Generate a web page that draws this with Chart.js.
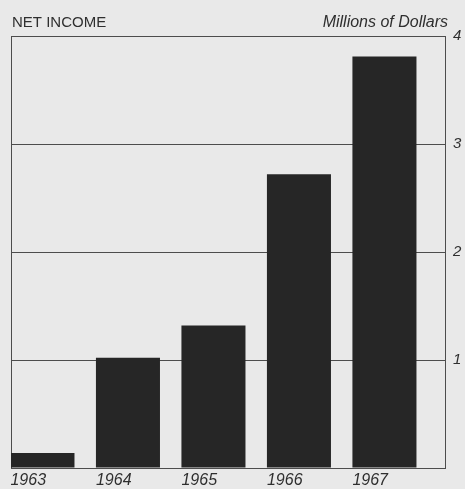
<!DOCTYPE html>
<html>
<head>
<meta charset="utf-8">
<script src="https://cdn.jsdelivr.net/npm/chart.js@4/dist/chart.umd.min.js"></script>
<style>
  html, body { margin: 0; padding: 0; background: #e9e9e9; }
  #wrap { width: 465px; height: 489px; }
</style>
</head>
<body>
<div id="wrap"><canvas id="c" width="465" height="489"></canvas></div>
<script>
// ---- data ----
const years = [1963, 1964, 1965, 1966, 1967];
const netIncome = [0.14, 1.02, 1.32, 2.72, 3.81]; // millions of dollars
const yTicks = [1, 2, 3, 4];
const titleLeft = 'NET INCOME';
const titleRight = 'Millions of Dollars';

// ---- layout settings ----
const xMin = 1962.632, xMax = 1967.72;
const barPct = 0.749;
const halfBar = barPct / 2;
const ink = '#2f2f2f';
const lineCol = '#4d4d4d';
const fontFam = '"Liberation Sans", Arial, sans-serif';

const framePlugin = {
  id: 'frame',
  beforeDatasetsDraw(chart) {
    const { ctx, chartArea: a } = chart;
    ctx.save();
    ctx.strokeStyle = lineCol;
    ctx.lineWidth = 1;
    ctx.strokeRect(a.left + 0.5, a.top + 0.5, a.right - a.left - 1, a.bottom - a.top);
    ctx.restore();
  },
  afterDraw(chart) {
    const { ctx, chartArea: a } = chart;
    ctx.save();
    ctx.fillStyle = ink;
    ctx.textBaseline = 'alphabetic';
    ctx.font = '15px ' + fontFam;
    ctx.textAlign = 'left';
    ctx.fillText(titleLeft, a.left + 1, 27);
    ctx.font = 'italic 16px ' + fontFam;
    ctx.textAlign = 'right';
    ctx.fillText(titleRight, a.right + 2, 27);
    ctx.restore();
  }
};

new Chart(document.getElementById('c'), {
  type: 'bar',
  data: {
    datasets: [{
      data: years.map((y, i) => ({ x: y, y: netIncome[i] })),
      backgroundColor: '#262626',
      borderWidth: 0,
      barPercentage: barPct,
      categoryPercentage: 1
    }]
  },
  options: {
    responsive: false,
    animation: false,
    devicePixelRatio: 1,
    layout: { padding: { left: 11, top: 36, right: 0, bottom: 0 } },
    plugins: { legend: { display: false }, tooltip: { enabled: false }, title: { display: false } },
    scales: {
      x: {
        type: 'linear',
        display: false,
        offset: false,
        grid: { offset: false },
        min: xMin,
        max: xMax
      },
      xl: {
        type: 'linear',
        position: 'bottom',
        offset: false,
        min: xMin + halfBar,
        max: xMax + halfBar,
        afterBuildTicks: s => { s.ticks = years.map(v => ({ value: v })); },
        afterFit: s => { s.height = 21; },
        grid: { display: false, drawTicks: false, offset: false },
        border: { display: false },
        ticks: {
          align: 'start',
          autoSkip: false,
          maxRotation: 0,
          padding: 3,
          color: ink,
          font: { family: fontFam, size: 16, style: 'italic' },
          callback: v => String(v)
        }
      },
      y: {
        position: 'right',
        min: 0,
        max: 4,
        afterBuildTicks: s => { s.ticks = [0].concat(yTicks).map(v => ({ value: v })); },
        afterFit: s => { s.width = 19; },
        grid: { color: lineCol, lineWidth: 1, drawTicks: false },
        border: { display: false },
        ticks: {
          padding: 7,
          color: ink,
          font: { family: fontFam, size: 15, style: 'italic' },
          callback: v => (v === 0 ? '' : String(v))
        }
      }
    }
  },
  plugins: [framePlugin]
});
</script>
</body>
</html>
